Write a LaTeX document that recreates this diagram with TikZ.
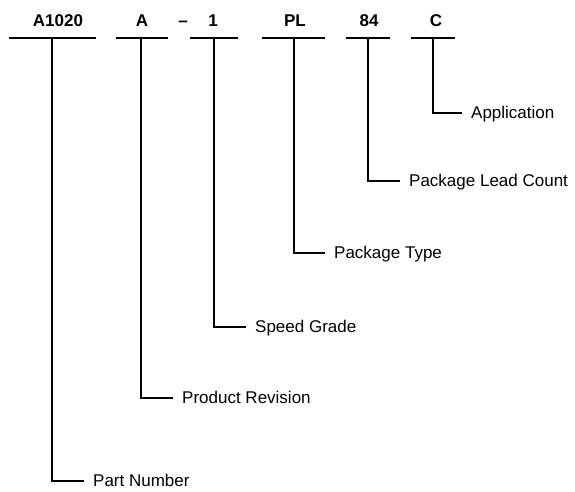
\documentclass[tikz,border=0pt]{standalone}
\usepackage{fontspec}
\setmainfont{Liberation Sans}
\usetikzlibrary{positioning}

\begin{document}
\begin{tikzpicture}[x=1pt,y=-1pt,
  code/.style={font=\fontsize{17}{20}\selectfont\bfseries,anchor=base,inner sep=0pt},
  desc/.style={font=\fontsize{17}{20}\selectfont,anchor=west,inner xsep=9pt,inner ysep=0pt,text height=14pt,text depth=3pt},
  bar/.style={line width=2pt},
  lead/.style={line width=1.4pt}]
\useasboundingbox (0,0) rectangle (575,491);
\node[code] (pn) at (58,26) {A1020};
\node[code] (rev) at (142,26) {A};
\node[code] (dash) at (183,26) {--};
\node[code] (spd) at (213,26) {1};
\node[code] (pkg) at (295,26) {PL};
\node[code] (cnt) at (369,26) {84};
\node[code] (app) at (436,26) {C};
\draw[bar] (9,37.5) -- (96,37.5);
\draw[bar] (116,37.5) -- (168,37.5);
\draw[bar] (190,37.5) -- (238,37.5);
\draw[bar] (262,37.5) -- (325,37.5);
\draw[bar] (346,37.5) -- (390,37.5);
\draw[bar] (411,37.5) -- (455,37.5);
\coordinate (pnT) at (52,37.5);
\coordinate (revT) at (141,37.5);
\coordinate (spdT) at (214,37.5);
\coordinate (pkgT) at (294,37.5);
\coordinate (cntT) at (368,37.5);
\coordinate (appT) at (433,37.5);
\node[desc] (pnL) at (84,481) {Part Number};
\node[desc] (revL) at (173,398) {Product Revision};
\node[desc] (spdL) at (246,327) {Speed Grade};
\node[desc] (pkgL) at (325,253) {Package Type};
\node[desc] (cntL) at (400,181) {Package Lead Count};
\node[desc] (appL) at (462,113) {Application};
\draw[lead] (pnT) |- (pnL.west);
\draw[lead] (revT) |- (revL.west);
\draw[lead] (spdT) |- (spdL.west);
\draw[lead] (pkgT) |- (pkgL.west);
\draw[lead] (cntT) |- (cntL.west);
\draw[lead] (appT) |- (appL.west);
\end{tikzpicture}
\end{document}
